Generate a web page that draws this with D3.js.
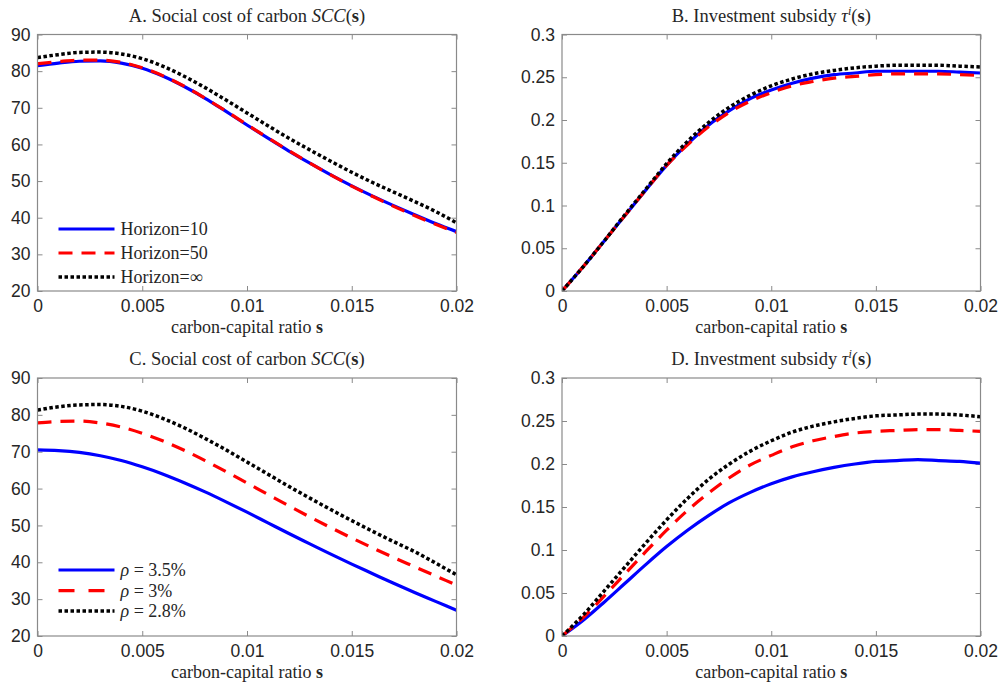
<!DOCTYPE html>
<html>
<head>
    <meta charset="utf-8">
    <title>SCC and investment subsidy</title>
    <script src="https://cdn.jsdelivr.net/npm/d3@7"></script>
    <style>
        html, body { margin: 0; padding: 0; background: #fff; }
        svg { display: block; }
    </style>
</head>
<body>
<svg class="main" width="1000" height="688"></svg>
<script>
    // carbon-capital ratio grid
    var sGrid = d3.range(0, 21).map(function (i) { return i * 0.001; });

    // Panel A: SCC by horizon
    var sccH10  = [81.5, 82.2, 82.7, 82.8, 82.2, 80.8, 78.6, 75.8, 72.6, 69.0, 65.3, 61.7, 58.2, 54.9, 51.7, 48.7, 45.9, 43.3, 40.8, 38.4, 36.2];
    var sccH50  = [82.0, 82.6, 83.0, 83.0, 82.4, 80.9, 78.7, 75.9, 72.6, 69.1, 65.4, 61.8, 58.3, 54.9, 51.7, 48.6, 45.8, 43.1, 40.6, 38.2, 36.0];
    var sccHInf = [83.7, 84.5, 85.1, 85.2, 84.7, 83.4, 81.3, 78.6, 75.5, 72.1, 68.6, 65.1, 61.7, 58.5, 55.4, 52.4, 49.6, 47.0, 44.4, 41.7, 38.6];

    // Panel B: investment subsidy by horizon
    var tauH10  = [0, 0.028, 0.058, 0.088, 0.118, 0.147, 0.172, 0.194, 0.211, 0.225, 0.235, 0.243, 0.249, 0.253, 0.255, 0.257, 0.257, 0.257, 0.257, 0.256, 0.255];
    var tauH50  = [0, 0.028, 0.058, 0.088, 0.118, 0.147, 0.171, 0.192, 0.209, 0.222, 0.232, 0.240, 0.245, 0.249, 0.251, 0.253, 0.254, 0.254, 0.254, 0.253, 0.252];
    var tauHInf = [0, 0.028, 0.058, 0.089, 0.119, 0.149, 0.175, 0.197, 0.215, 0.229, 0.240, 0.248, 0.254, 0.258, 0.261, 0.263, 0.264, 0.264, 0.264, 0.263, 0.262];

    // Panel C: SCC by discount rate
    var sccR35 = [70.5, 70.3, 69.8, 68.9, 67.6, 65.9, 63.9, 61.6, 59.1, 56.4, 53.6, 50.7, 47.8, 45.0, 42.2, 39.5, 36.9, 34.3, 31.8, 29.4, 27.0];
    var sccR30 = [77.8, 78.2, 78.3, 77.8, 76.7, 75.0, 72.9, 70.4, 67.6, 64.6, 61.5, 58.4, 55.3, 52.3, 49.4, 46.6, 43.9, 41.3, 38.8, 36.3, 33.8];
    var sccR28 = [81.3, 82.2, 82.7, 82.8, 82.3, 81.0, 79.0, 76.5, 73.6, 70.5, 67.2, 63.9, 60.6, 57.4, 54.3, 51.3, 48.4, 45.6, 42.9, 39.8, 36.6];

    // Panel D: investment subsidy by discount rate
    var tauR35 = [0, 0.018, 0.039, 0.061, 0.083, 0.104, 0.123, 0.140, 0.155, 0.167, 0.177, 0.185, 0.191, 0.196, 0.200, 0.203, 0.204, 0.205, 0.204, 0.203, 0.201];
    var tauR30 = [0, 0.021, 0.046, 0.072, 0.098, 0.123, 0.146, 0.166, 0.184, 0.199, 0.210, 0.220, 0.227, 0.232, 0.236, 0.238, 0.239, 0.240, 0.240, 0.239, 0.238];
    var tauR28 = [0, 0.024, 0.052, 0.080, 0.108, 0.135, 0.160, 0.182, 0.200, 0.215, 0.227, 0.237, 0.244, 0.249, 0.253, 0.256, 0.257, 0.258, 0.258, 0.257, 0.255];

    var xTicks = [0, 0.005, 0.01, 0.015, 0.02];
    var xTickLabels = ["0", "0.005", "0.01", "0.015", "0.02"];
    var sccTicks = [20, 30, 40, 50, 60, 70, 80, 90];
    var tauTicks = [0, 0.05, 0.1, 0.15, 0.2, 0.25, 0.3];

    var horizonNames = ["Horizon=10", "Horizon=50", "Horizon=\u221e"];
    var rhoNames = ["3.5%", "3%", "2.8%"];

    var styles = [
        { color: "#0000ff", dash: null, width: 3.2 },
        { color: "#ff0000", dash: "14,9", width: 3.2 },
        { color: "#000000", dash: "3.5,2.5", width: 3.5 }
    ];

    var panels = [
        { letter: "A", kind: "scc", left: 37.5, top: 34.5, w: 419, h: 256.5, domain: [20, 90], ticks: sccTicks, series: [sccH10, sccH50, sccHInf], legend: "horizon", legY: [229, 253, 277] },
        { letter: "B", kind: "tau", left: 562, top: 34.5, w: 418.5, h: 256.5, domain: [0, 0.3], ticks: tauTicks, series: [tauH10, tauH50, tauHInf] },
        { letter: "C", kind: "scc", left: 37.5, top: 378, w: 419, h: 258, domain: [20, 90], ticks: sccTicks, series: [sccR35, sccR30, sccR28], legend: "rho", legY: [570, 590.7, 611] },
        { letter: "D", kind: "tau", left: 562, top: 378, w: 418.5, h: 258, domain: [0, 0.3], ticks: tauTicks, series: [tauR35, tauR30, tauR28] }
    ];

    var svg = d3.select("svg");
    var axisColor = "#8a8a8a";
    var textColor = "#262626";
    var tickFont = "'Liberation Sans', Arial, Helvetica, sans-serif";
    var serif = "'Liberation Serif', 'Times New Roman', Times, serif";

    panels.forEach(function (p) {
        var g = svg.append("g").attr("transform", "translate(" + p.left + "," + p.top + ")");
        var x = d3.scaleLinear().domain([0, 0.02]).range([0, p.w]);
        var y = d3.scaleLinear().domain(p.domain).range([p.h, 0]);

        // ticks on all four sides, pointing inward
        var bottom = g.append("g").attr("transform", "translate(0," + p.h + ")")
            .call(d3.axisBottom(x).tickValues(xTicks).tickSize(-5).tickPadding(9)
                .tickFormat(function (d, i) { return xTickLabels[i]; }));
        var top = g.append("g").call(d3.axisTop(x).tickValues(xTicks).tickSize(-5).tickFormat(""));
        var left = g.append("g")
            .call(d3.axisLeft(y).tickValues(p.ticks).tickSize(-5).tickPadding(7)
                .tickFormat(function (d) { return d3.format("~g")(d); }));
        var right = g.append("g").attr("transform", "translate(" + p.w + ",0)")
            .call(d3.axisRight(y).tickValues(p.ticks).tickSize(-5).tickFormat(""));

        [bottom, top, left, right].forEach(function (a) {
            a.select(".domain").remove();
            a.selectAll("line").attr("stroke", axisColor).attr("stroke-width", 1);
            a.selectAll("text").attr("fill", textColor).style("font-family", tickFont).style("font-size", "17.5px");
        });

        // clip curves to the box
        var clipId = "clip" + p.letter;
        g.append("clipPath").attr("id", clipId).append("rect")
            .attr("x", 0).attr("y", 0).attr("width", p.w).attr("height", p.h);

        var line = d3.line()
            .x(function (d, i) { return x(sGrid[i]); })
            .y(function (d) { return y(d); })
            .curve(d3.curveMonotoneX);

        p.series.forEach(function (vals, k) {
            g.append("path")
                .attr("clip-path", "url(#" + clipId + ")")
                .attr("d", line(vals))
                .attr("fill", "none")
                .attr("stroke", styles[k].color)
                .attr("stroke-width", styles[k].width)
                .attr("stroke-dasharray", styles[k].dash);
        });

        // box
        g.append("rect").attr("x", 0).attr("y", 0).attr("width", p.w).attr("height", p.h)
            .attr("fill", "none").attr("stroke", axisColor).attr("stroke-width", 1.2);

        // title
        var title = g.append("text")
            .attr("x", p.w / 2).attr("y", -13)
            .attr("text-anchor", "middle")
            .style("font-family", serif).style("font-size", "18.5px").attr("fill", textColor);
        var openDy = 0;
        if (p.kind === "scc") {
            title.append("tspan").text(p.letter + ". Social cost of carbon ");
            title.append("tspan").style("font-style", "italic").text("SCC");
        } else {
            title.append("tspan").text(p.letter + ". Investment subsidy ");
            title.append("tspan").style("font-style", "italic").text("\u03c4");
            title.append("tspan").style("font-style", "italic").style("font-size", "12px").attr("dy", -7).text("i");
            openDy = 7;
        }
        title.append("tspan").attr("dy", openDy).text("(");
        title.append("tspan").style("font-weight", "bold").text("s");
        title.append("tspan").text(")");

        // x label
        var xl = g.append("text")
            .attr("x", p.w / 2).attr("y", p.h + 42)
            .attr("text-anchor", "middle")
            .style("font-family", serif).style("font-size", "18px").attr("fill", textColor);
        xl.append("tspan").text("carbon-capital ratio ");
        xl.append("tspan").style("font-weight", "bold").text("s");

        // legend
        if (p.legend) {
            p.legY.forEach(function (ly, k) {
                var yy = ly - p.top;
                g.append("line")
                    .attr("x1", 21).attr("x2", 77).attr("y1", yy).attr("y2", yy)
                    .attr("stroke", styles[k].color)
                    .attr("stroke-width", styles[k].width)
                    .attr("stroke-dasharray", p.legend === "rho" && k === 1 ? "16,14" : styles[k].dash);
                var t = g.append("text").attr("x", 83).attr("y", yy + 6)
                    .style("font-family", serif).style("font-size", "18px").attr("fill", textColor);
                if (p.legend === "horizon") {
                    t.text(horizonNames[k]);
                } else {
                    t.append("tspan").style("font-style", "italic").text("\u03c1");
                    t.append("tspan").text(" = " + rhoNames[k]);
                }
            });
        }
    });
</script>
</body>
</html>
